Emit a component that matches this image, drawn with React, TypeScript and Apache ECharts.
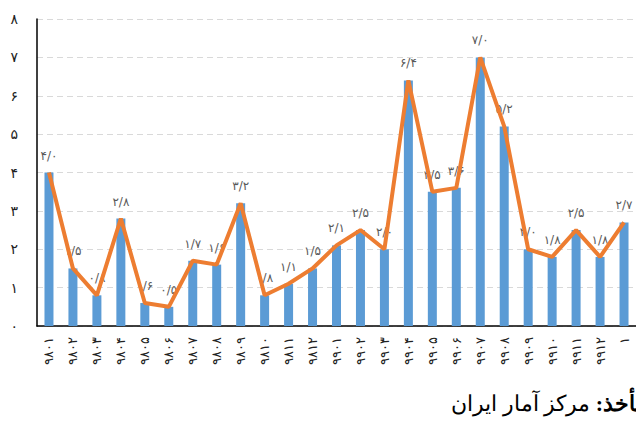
import React, { useEffect, useRef } from "react";
import * as echarts from "echarts";

const categories = [
  "9801", "9802", "9803", "9804", "9805", "9806", "9807", "9808", "9809", "9810", "9811", "9812",
  "9901", "9902", "9903", "9904", "9905", "9906", "9907", "9908", "9909", "9910", "9911", "9912",
  "1",
];
const barValues = [4.0, 1.5, 0.8, 2.8, 0.6, 0.5, 1.7, 1.6, 3.2, 0.8, 1.1, 1.5, 2.1, 2.5, 2.0, 6.4, 3.5, 3.6, 7.0, 5.2, 2.0, 1.8, 2.5, 1.8, 2.7];
const lineValues = [4.0, 1.5, 0.8, 2.8, 0.6, 0.5, 1.7, 1.6, 3.2, 0.8, 1.1, 1.5, 2.1, 2.5, 2.0, 6.4, 3.5, 3.6, 7.0, 5.2, 2.0, 1.8, 2.5, 1.8, 2.7];
const yTicks = [0, 1, 2, 3, 4, 5, 6, 7, 8];
const sourceLabel = "مأخذ:";
const sourceText = "مرکز آمار ایران";

const faDigits = ["۰", "۱", "۲", "۳", "۴", "۵", "۶", "۷", "۸", "۹"];
function toFa(s: string): string {
  return s.replace(/[0-9]/g, (d) => faDigits[Number(d)]).replace(/\./g, "/");
}

export default function App() {
  const ref = useRef<HTMLDivElement>(null);
  useEffect(() => {
    if (!ref.current) return;
    const chart = echarts.init(ref.current, null, { renderer: "svg" });
    chart.setOption({
      animation: false,
      grid: { left: 37, top: 19, right: -2, bottom: 99, containLabel: false },
      xAxis: {
        type: "category",
        data: categories,
        axisLine: { lineStyle: { color: "#000", width: 1.5 } },
        axisTick: { show: false },
        axisLabel: {
          rotate: 90,
          margin: 11,
          fontSize: 13,
          color: "#222",
          fontFamily: "DejaVu Sans",
          formatter: (v: string) => toFa(v),
        },
      },
      yAxis: {
        type: "value",
        min: yTicks[0],
        max: yTicks[yTicks.length - 1],
        interval: 1,
        axisLine: { show: true, lineStyle: { color: "#000", width: 1.5 } },
        axisTick: { show: false },
        axisLabel: {
          margin: 19,
          fontSize: 14,
          color: "#222",
          fontFamily: "DejaVu Sans",
          formatter: (v: number) => toFa(String(v)),
        },
        splitLine: { lineStyle: { color: "#d9d9d9", type: [6, 4], width: 1 } },
      },
      series: [
        {
          type: "bar",
          data: barValues,
          barWidth: 9,
          itemStyle: { color: "#5b9bd5" },
          z: 2,
          label: {
            show: true,
            position: "top",
            distance: 11,
            fontSize: 12,
            color: "#595959",
            fontFamily: "DejaVu Sans",
            formatter: (p: any) => toFa(Number(p.value).toFixed(1)),
          },
        },
        {
          type: "line",
          data: lineValues,
          symbol: "none",
          lineStyle: { color: "#ed7d31", width: 4 },
          itemStyle: { color: "#ed7d31" },
          z: 3,
        },
      ],
      graphic: [
        {
          type: "text",
          x: 648,
          y: 403,
          style: {
            text: "{n|" + sourceText + " }{b|" + sourceLabel + "\u200F}",
            align: "right",
            verticalAlign: "middle",
            rich: {
              n: { fontSize: 22, fontFamily: "serif", fill: "#000" },
              b: { fontSize: 22, fontFamily: "serif", fontWeight: "bold", fill: "#000" },
            },
          },
        },
      ],
    });
    return () => chart.dispose();
  }, []);
  return <div ref={ref} style={{ width: 636, height: 425, position: "absolute", left: 0, top: 0 }} />;
}
